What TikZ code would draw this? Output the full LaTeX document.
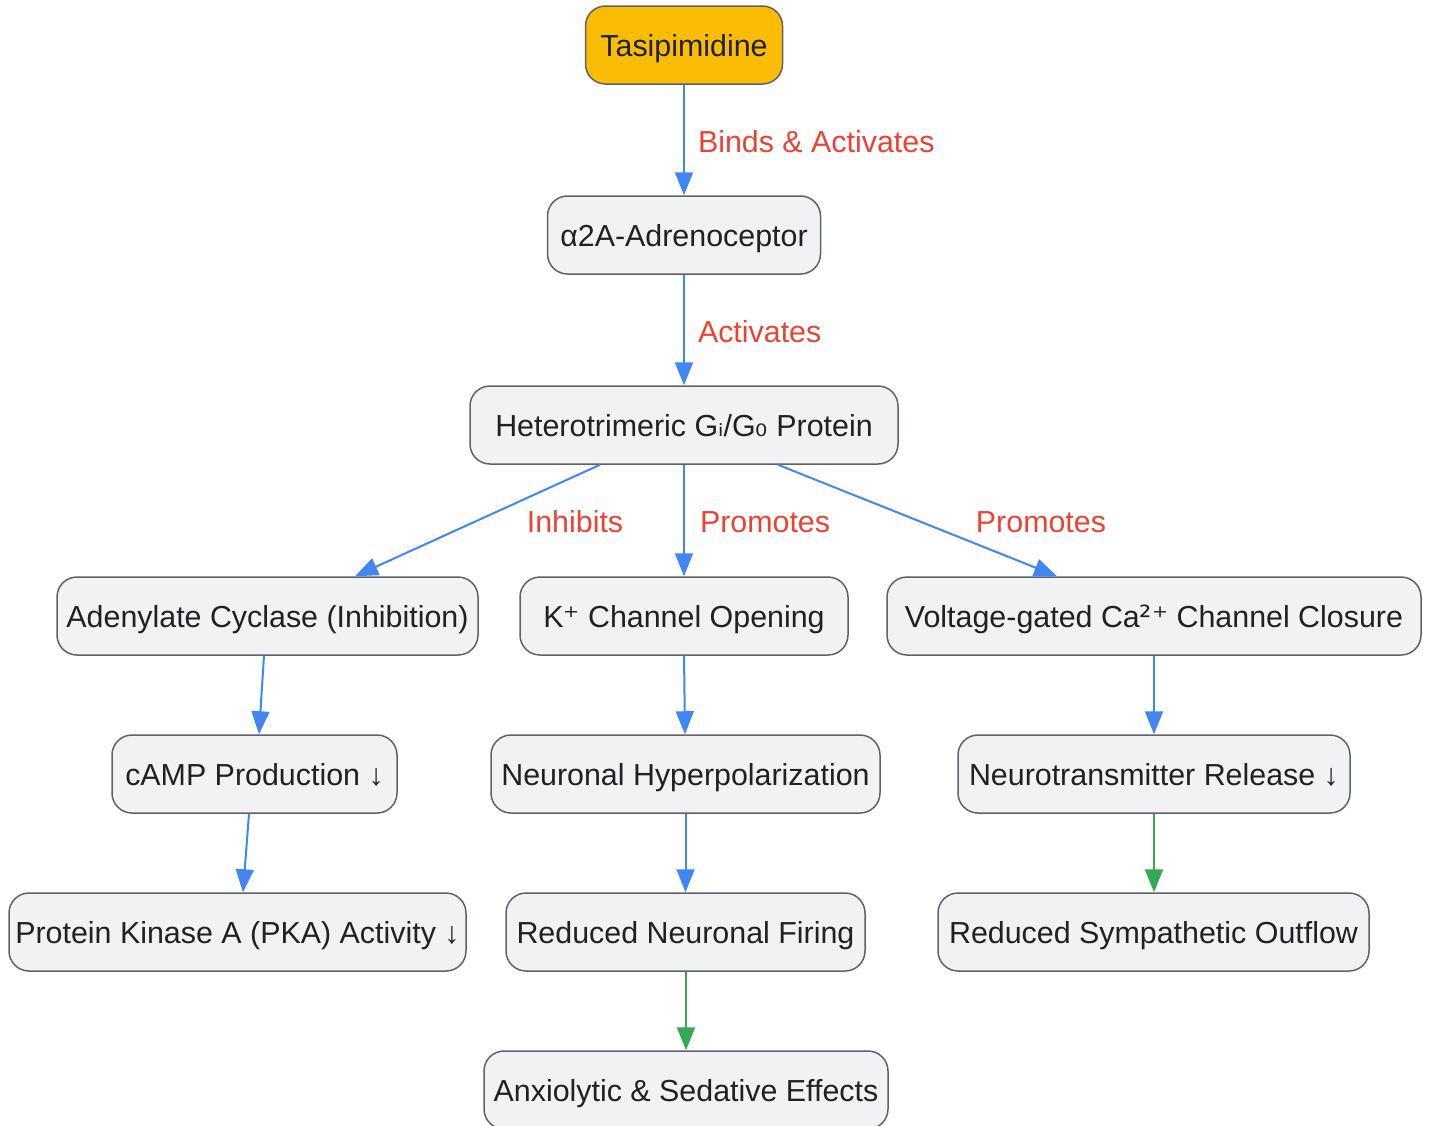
\documentclass[tikz,border=0pt]{standalone}
\usepackage{fontspec}
\setmainfont{Liberation Sans}
\newfontfamily\dv{DejaVu Sans}
\usetikzlibrary{arrows.meta}
\definecolor{nodefill}{HTML}{F1F2F4}
\definecolor{boxdraw}{HTML}{5F6368}
\definecolor{txt}{HTML}{202124}
\definecolor{drugfill}{HTML}{FBBC05}
\definecolor{flowblue}{HTML}{4285F4}
\definecolor{flowgreen}{HTML}{34A853}
\definecolor{lblred}{HTML}{EA4335}
\begin{document}
\begin{tikzpicture}[x=1pt,y=-1pt,
  box/.style={draw=boxdraw, fill=nodefill, line width=1.5pt, rounded corners=20pt,
    minimum height=78pt, text=txt, font=\fontsize{30.4}{35}\selectfont, inner sep=0pt,
    text height=26pt, text depth=3pt},
  drug/.style={box, fill=drugfill},
  flow/.style={draw=flowblue, line width=2pt, -{Triangle[length=23pt,width=18pt]}},
  gflow/.style={flow, draw=flowgreen},
  lbl/.style={text=lblred, font=\fontsize{30.4}{35}\selectfont, inner sep=0pt,
    text height=29pt, text depth=3pt}
]
\useasboundingbox (0,0) rectangle (1429,1125);

\node[drug, minimum width=197pt] (tas) at (684,45) {Tasipimidine};
\node[box, minimum width=273pt] (rec) at (684,235) {α2A-Adrenoceptor};
\node[box, minimum width=428pt] (het) at (684,425) {Heterotrimeric G{\dv ᵢ}/G{\dv ₀} Protein};
\node[box, minimum width=421pt] (adc) at (267.5,616) {Adenylate Cyclase (Inhibition)};
\node[box, minimum width=328pt] (kch) at (684,616) {K{\dv ⁺} Channel Opening};
\node[box, minimum width=534pt] (cac) at (1154,616) {Voltage-gated Ca{\dv ²⁺} Channel Closure};
\node[box, minimum width=285pt] (camp) at (254.5,774) {cAMP Production ↓};
\node[box, minimum width=389pt] (hyp) at (685.5,774) {Neuronal Hyperpolarization};
\node[box, minimum width=392pt] (ntr) at (1154,774) {Neurotransmitter Release ↓};
\node[box, minimum width=457pt] (pka) at (237.5,932) {Protein Kinase A (PKA) Activity ↓};
\node[box, minimum width=359pt] (fir) at (685.5,932) {Reduced Neuronal Firing};
\node[box, minimum width=431pt] (sym) at (1153.5,932) {Reduced Sympathetic Outflow};
\node[box, minimum width=404pt] (anx) at (686,1090) {Anxiolytic \& Sedative Effects};

\draw[flow] (tas.south) -- node[lbl, midway, anchor=west, xshift=13pt, yshift=1pt] {Binds \& Activates} (rec.north);
\draw[flow] (rec.south) -- node[lbl, midway, anchor=west, xshift=13pt, yshift=1pt] {Activates} (het.north);
\draw[flow] ([xshift=-84pt]het.south) -- node[lbl, midway, xshift=97.5pt, yshift=1pt] {Inhibits} ([xshift=87.5pt]adc.north);
\draw[flow] (het.south) -- node[lbl, midway, anchor=west, xshift=15pt, yshift=1pt] {Promotes} (kch.north);
\draw[flow] ([xshift=94pt]het.south) -- node[lbl, midway, xshift=123.5pt, yshift=1pt] {Promotes} ([xshift=-97pt]cac.north);
\draw[flow] ([xshift=-3.5pt]adc.south) -- ([xshift=4.5pt]camp.north);
\draw[flow] (kch.south) -- ([xshift=-0.5pt]hyp.north);
\draw[flow] (cac.south) -- (ntr.north);
\draw[flow] ([xshift=-5.5pt]camp.south) -- ([xshift=5.5pt]pka.north);
\draw[flow] (hyp.south) -- (fir.north);
\draw[gflow] (ntr.south) -- ([xshift=0.5pt]sym.north);
\draw[gflow] ([xshift=0.5pt]fir.south) -- (anx.north);
\end{tikzpicture}
\end{document}
